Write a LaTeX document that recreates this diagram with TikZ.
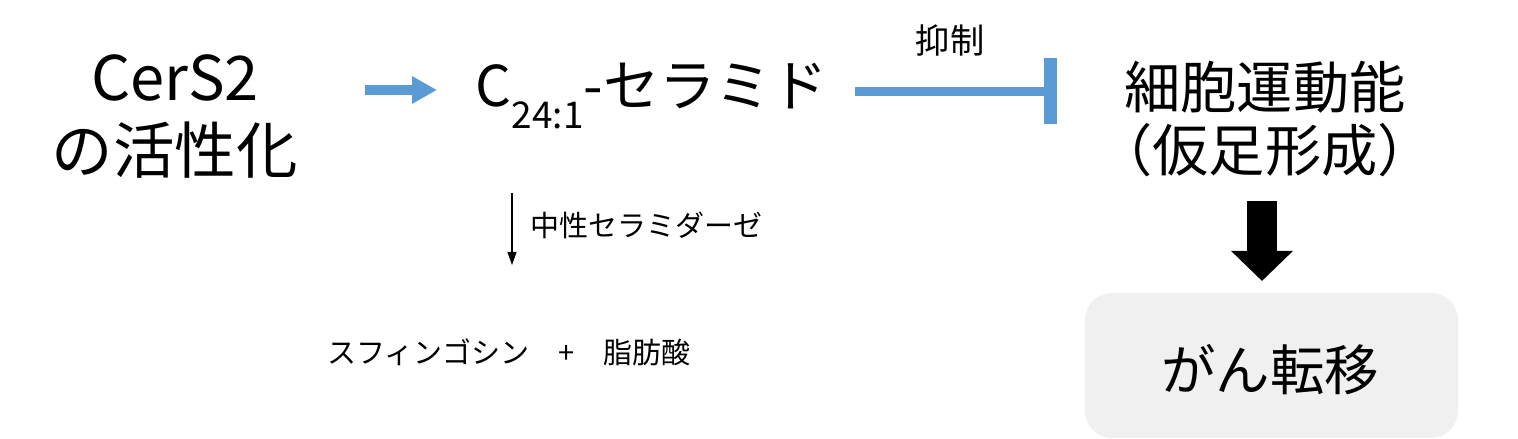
\documentclass[tikz,border=0pt]{standalone}
\usepackage{fontspec}
\setmainfont{Noto Sans CJK JP}
\usetikzlibrary{arrows.meta}
\definecolor{pathblue}{HTML}{5B9BD5}

\begin{document}
\begin{tikzpicture}[every node/.style={inner sep=0pt},
  big/.style={font=\fontsize{35}{40}\selectfont},
  mid/.style={font=\fontsize{32}{38}\selectfont},
  small/.style={font=\fontsize{16.5}{20}\selectfont},
  promote/.style={draw=pathblue,line width=0.2cm,-{Triangle[width=0.52cm,length=0.5cm]}},
  inhibit/.style={draw=pathblue,line width=0.18cm,-{Bar[width=1.32cm,line width=0.26cm]}}]
\useasboundingbox (0,0) rectangle (30.36,8.78);
\node[big] (cers) at (3.5,7.22) {CerS2};
\node[big] (act) at (3.5,5.78) {の活性化};
\node[mid] (cer) at (13.04,6.86) {C\raisebox{-0.38em}{\fontsize{21}{24}\selectfont 24:1}-セラミド};
\node[mid] (mot) at (25.3,7.04) {細胞運動能};
\node[mid] (pseudo) at (25.3,5.78) {（仮足形成）};
\node[draw=none,fill=gray!12,rounded corners=0.54cm,
  minimum width=7.46cm,minimum height=2.9cm] (meta) at (25.43,1.47) {};
\node[mid,font=\fontsize{31}{36}\selectfont] at (25.4,1.38) {がん転移};
\node[small,font=\fontsize{19.5}{22}\selectfont] (inh) at (19.0,7.98) {抑制};
\node[small,anchor=west] (enz) at (10.6,4.28) {中性セラミダーゼ};
\node[small] (prod) at (10.18,1.74) {スフィンゴシン\quad+\quad 脂肪酸};
\coordinate (a1) at (7.3,6.98);
\coordinate (a2) at (8.74,6.98);
\coordinate (b1) at (17.1,6.95);
\coordinate (b2) at (21.14,6.95);
\coordinate (c1) at (10.24,4.92);
\coordinate (c2) at (10.24,3.48);
\coordinate (d1) at (25.24,4.76);
\coordinate (d2) at (25.24,3.16);
\draw[promote] (a1) -- (a2);
\draw[inhibit] (b1) -- (b2);
\draw[line width=0.6pt,-{Triangle[width=0.18cm,length=0.26cm]}] (c1) -- (c2);
\draw[line width=0.6cm,-{Triangle[width=1.2cm,length=0.6cm]}] (d1) -- (d2);
\end{tikzpicture}
\end{document}
